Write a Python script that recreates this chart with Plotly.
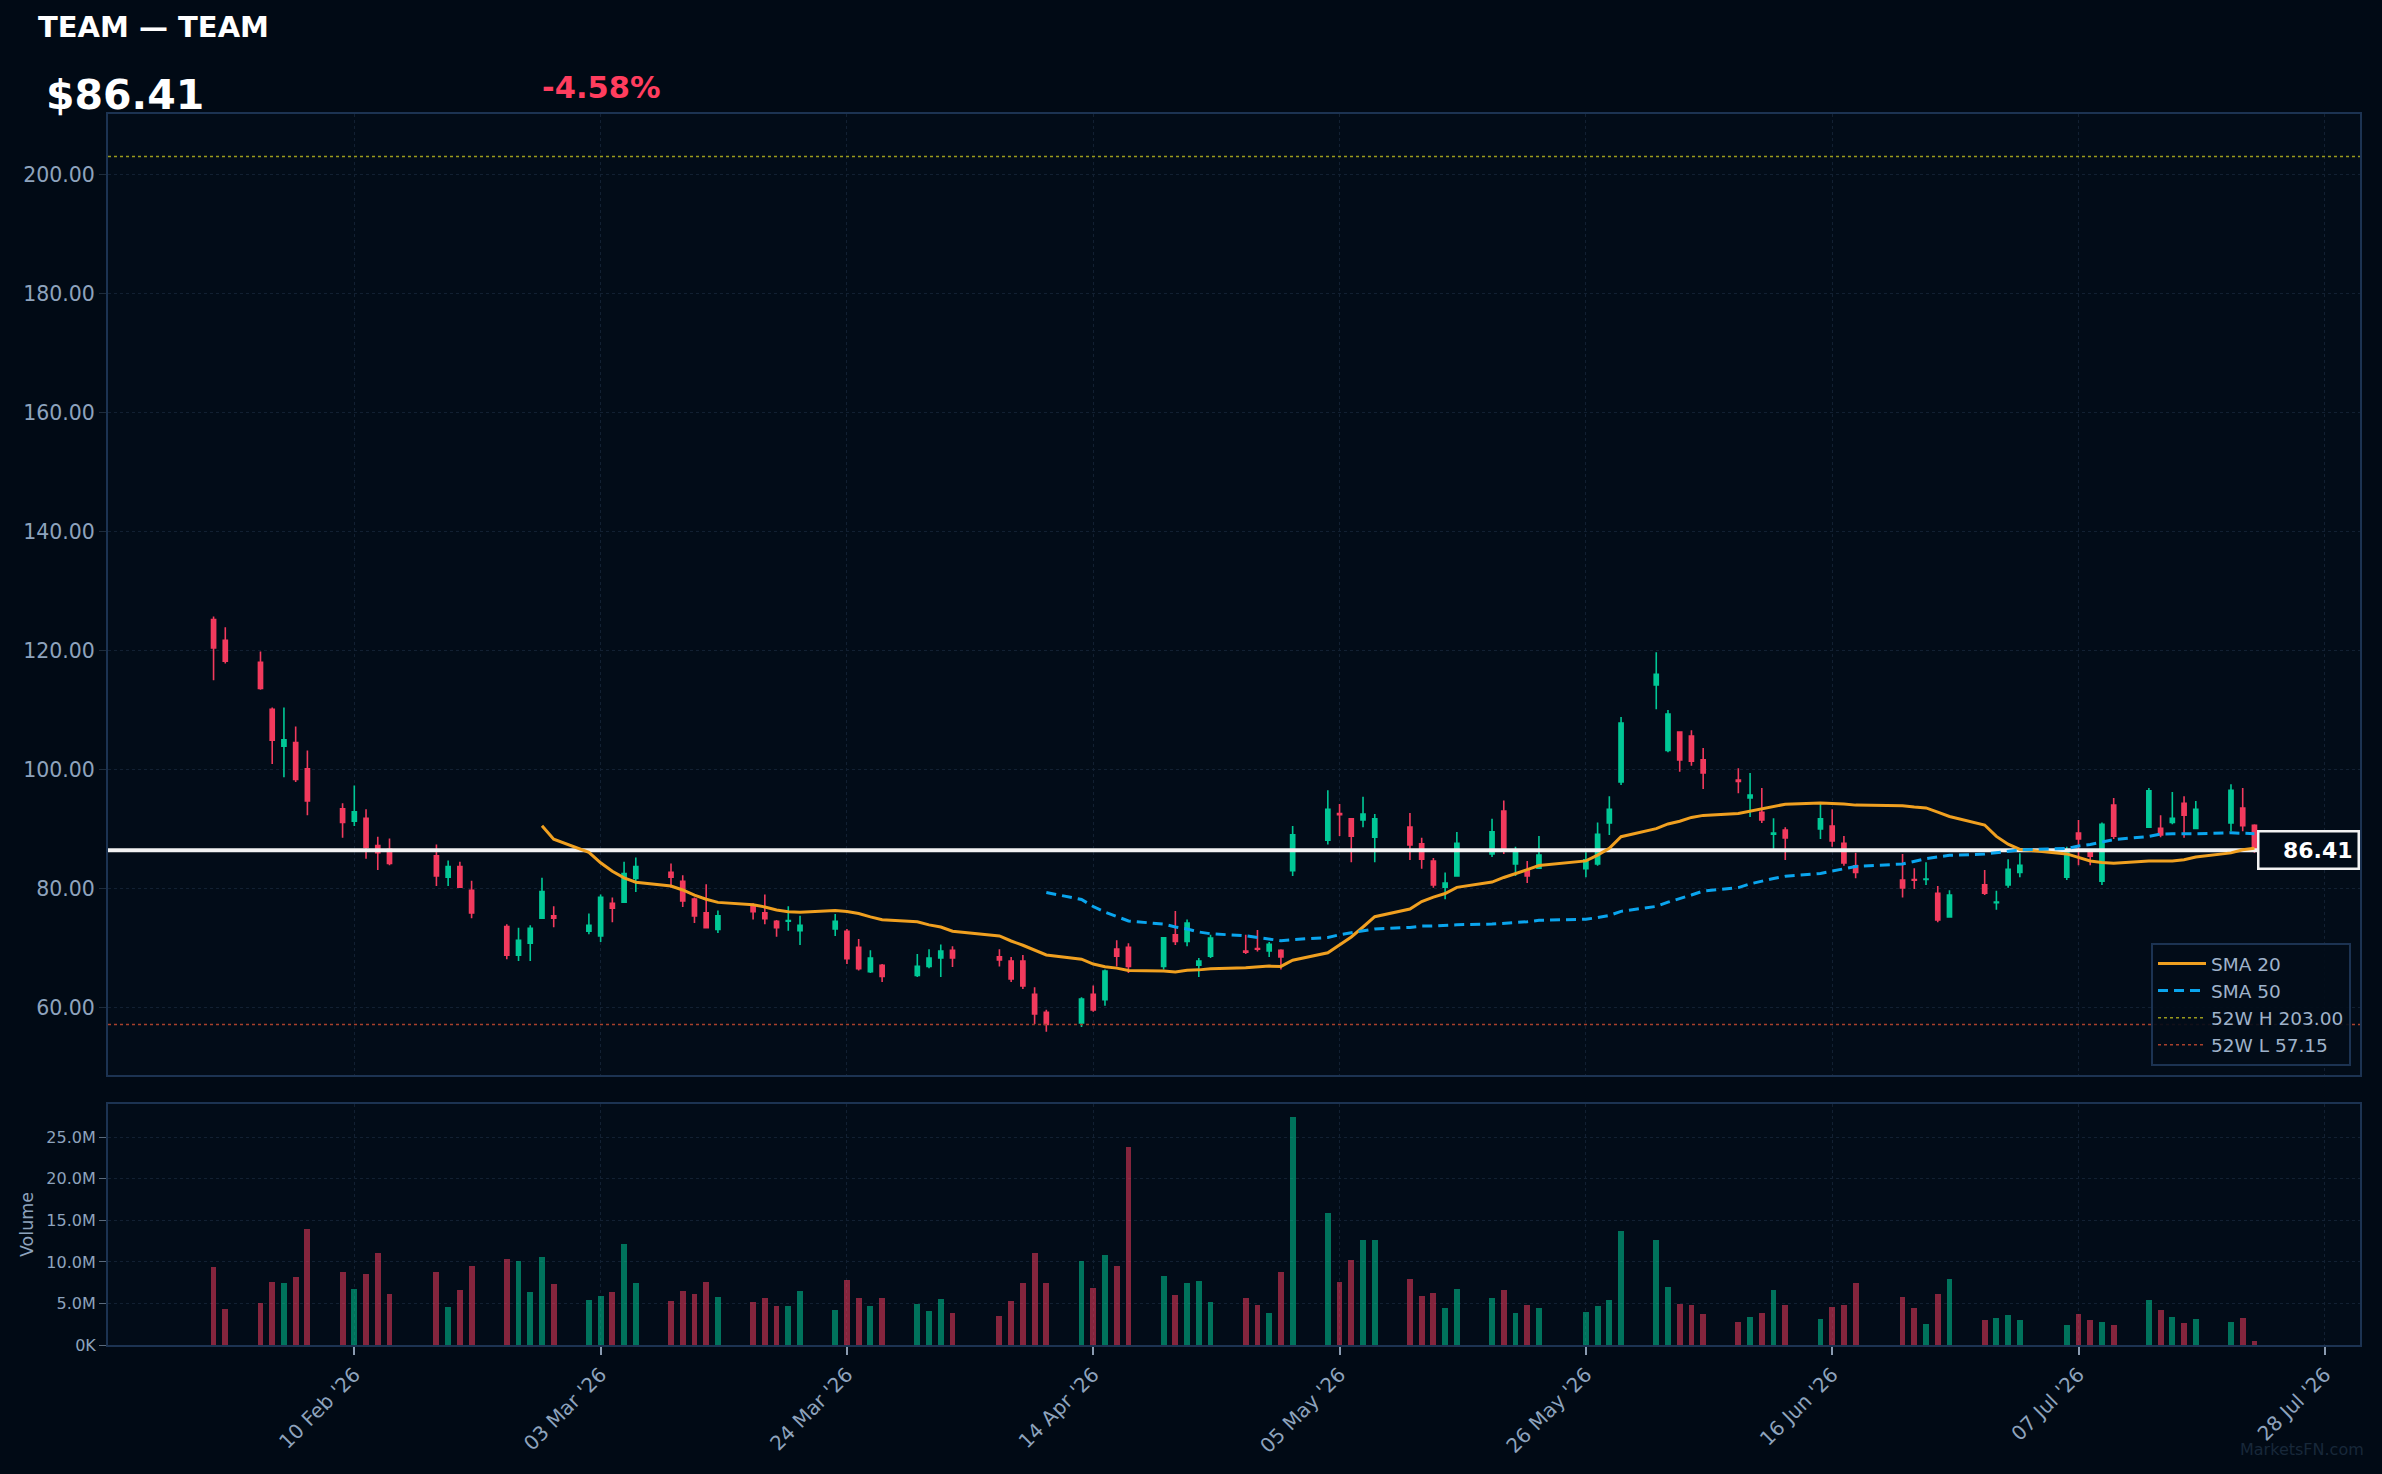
import pandas as pd
import plotly.graph_objects as go

# ---------------- data ----------------
TICKER = "TEAM"
NAME = "TEAM"

dates = [
    "2026-01-29", "2026-01-30",
    "2026-02-02", "2026-02-03", "2026-02-04", "2026-02-05", "2026-02-06",
    "2026-02-09", "2026-02-10", "2026-02-11", "2026-02-12", "2026-02-13",
    "2026-02-17", "2026-02-18", "2026-02-19", "2026-02-20",
    "2026-02-23", "2026-02-24", "2026-02-25", "2026-02-26", "2026-02-27",
    "2026-03-02", "2026-03-03", "2026-03-04", "2026-03-05", "2026-03-06",
    "2026-03-09", "2026-03-10", "2026-03-11", "2026-03-12", "2026-03-13",
    "2026-03-16", "2026-03-17", "2026-03-18", "2026-03-19", "2026-03-20",
    "2026-03-23", "2026-03-24", "2026-03-25", "2026-03-26", "2026-03-27",
    "2026-03-30", "2026-03-31", "2026-04-01", "2026-04-02",
    "2026-04-06", "2026-04-07", "2026-04-08", "2026-04-09", "2026-04-10",
    "2026-04-13", "2026-04-14", "2026-04-15", "2026-04-16", "2026-04-17",
    "2026-04-20", "2026-04-21", "2026-04-22", "2026-04-23", "2026-04-24",
    "2026-04-27", "2026-04-28", "2026-04-29", "2026-04-30", "2026-05-01",
    "2026-05-04", "2026-05-05", "2026-05-06", "2026-05-07", "2026-05-08",
    "2026-05-11", "2026-05-12", "2026-05-13", "2026-05-14", "2026-05-15",
    "2026-05-18", "2026-05-19", "2026-05-20", "2026-05-21", "2026-05-22",
    "2026-05-26", "2026-05-27", "2026-05-28", "2026-05-29",
    "2026-06-01", "2026-06-02", "2026-06-03", "2026-06-04", "2026-06-05",
    "2026-06-08", "2026-06-09", "2026-06-10", "2026-06-11", "2026-06-12",
    "2026-06-15", "2026-06-16", "2026-06-17", "2026-06-18",
    "2026-06-22", "2026-06-23", "2026-06-24", "2026-06-25", "2026-06-26",
    "2026-06-29", "2026-06-30", "2026-07-01", "2026-07-02",
    "2026-07-06", "2026-07-07", "2026-07-08", "2026-07-09", "2026-07-10",
    "2026-07-13", "2026-07-14", "2026-07-15", "2026-07-16", "2026-07-17",
    "2026-07-20", "2026-07-21", "2026-07-22",
]

opens = [
    125.2, 121.7,
    118.0, 110.1, 103.9, 104.5, 100.1,
    93.4, 91.3, 91.8, 87.2, 86.6,
    85.5, 81.9, 83.7, 79.7,
    73.6, 68.8, 70.8, 75.0, 75.4,
    72.8, 72.0, 77.5, 77.7, 81.7,
    82.7, 81.2, 78.2, 75.9, 73.1,
    76.9, 75.9, 74.5, 74.5, 72.9,
    73.2, 72.8, 70.1, 66.0, 67.1,
    65.4, 66.9, 68.3, 69.6,
    68.5, 67.8, 67.8, 62.2, 59.2,
    57.4, 62.2, 61.3, 69.8, 70.1,
    66.9, 72.2, 71.1, 67.1, 68.6,
    69.5, 69.9, 69.5, 69.6, 83.0,
    88.1, 92.6, 91.7, 91.5, 88.6,
    90.3, 87.5, 84.6, 80.2, 82.1,
    85.8, 93.0, 84.1, 83.1, 83.4,
    83.3, 84.1, 91.0, 97.9,
    114.2, 103.2, 106.3, 105.6, 101.6,
    98.2, 95.2, 92.8, 89.1, 89.8,
    90.0, 90.5, 87.6, 83.8,
    81.4, 81.5, 81.5, 79.2, 75.2,
    80.6, 77.6, 80.6, 82.7,
    81.9, 89.3, 86.1, 81.2, 94.0,
    90.3, 90.1, 91.1, 94.3, 90.1,
    91.0, 93.5, 90.6,
]

highs = [
    125.7, 123.9,
    119.8, 110.4, 110.4, 107.2, 103.2,
    94.3, 97.3, 93.3, 88.7, 88.4,
    87.4, 84.7, 84.5, 81.3,
    74.0, 73.4, 73.8, 81.8, 77.0,
    75.8, 79.0, 78.5, 84.5, 85.2,
    84.2, 82.2, 78.5, 80.7, 76.3,
    77.5, 79.0, 74.7, 77.0, 75.4,
    75.7, 73.2, 71.5, 69.6, 67.3,
    69.0, 69.8, 70.6, 70.3,
    69.8, 68.5, 68.8, 63.4, 59.6,
    61.7, 63.7, 66.4, 71.3, 70.8,
    71.8, 76.2, 74.8, 68.3, 72.2,
    72.2, 73.0, 71.0, 69.8, 90.5,
    96.5, 94.2, 91.8, 95.4, 92.5,
    92.7, 88.5, 85.1, 82.7, 89.5,
    91.7, 94.8, 87.0, 84.6, 88.8,
    86.1, 91.1, 95.5, 108.8,
    119.7, 110.0, 106.4, 106.6, 103.6,
    100.2, 99.4, 96.9, 91.8, 90.3,
    94.2, 93.3, 88.8, 86.0,
    85.8, 83.4, 84.4, 80.4, 79.7,
    83.1, 79.6, 84.9, 85.9,
    87.0, 91.5, 86.6, 91.1, 95.2,
    96.9, 92.3, 96.2, 95.5, 94.7,
    97.5, 96.9, 90.8,
]

lows = [
    115.0, 117.8,
    113.4, 100.9, 98.7, 97.9, 92.3,
    88.5, 90.5, 85.0, 83.1, 83.9,
    80.4, 80.4, 80.2, 75.0,
    68.1, 67.8, 67.8, 75.0, 73.5,
    72.3, 71.0, 74.3, 77.7, 79.4,
    80.1, 76.9, 74.2, 73.4, 72.5,
    74.8, 74.0, 71.9, 72.9, 70.5,
    72.0, 67.3, 66.2, 65.8, 64.3,
    65.1, 66.6, 65.1, 66.8,
    66.9, 64.3, 63.1, 57.2, 55.9,
    56.7, 59.3, 60.3, 66.9, 65.8,
    66.4, 70.5, 70.3, 65.1, 68.3,
    69.0, 69.4, 68.5, 66.4, 82.1,
    87.4, 88.8, 84.4, 90.3, 84.4,
    84.8, 83.3, 80.1, 78.2, 82.1,
    85.3, 85.8, 82.1, 80.9, 83.4,
    81.9, 83.8, 89.0, 97.4,
    110.1, 102.9, 99.6, 100.6, 96.7,
    96.0, 92.0, 91.0, 86.6, 84.8,
    88.3, 87.0, 83.8, 81.7,
    78.5, 79.9, 80.6, 74.3, 75.2,
    78.9, 76.4, 80.1, 81.9,
    81.4, 83.9, 83.9, 80.6, 88.3,
    90.3, 88.6, 90.8, 88.5, 90.0,
    89.6, 89.6, 86.0,
]

closes = [
    120.4, 118.2,
    113.6, 104.9, 105.0, 98.3, 94.7,
    91.1, 92.9, 86.9, 86.0, 84.2,
    82.1, 83.7, 80.2, 75.9,
    68.8, 71.3, 73.3, 79.5, 75.0,
    73.8, 78.5, 76.7, 82.5, 83.7,
    81.9, 77.9, 75.4, 73.4, 75.4,
    76.1, 74.9, 73.4, 74.6, 73.8,
    74.5, 68.2, 66.5, 68.3, 65.2,
    66.9, 68.3, 69.5, 68.3,
    68.0, 64.8, 63.6, 58.9, 57.15,
    61.4, 59.6, 66.1, 68.6, 66.9,
    71.7, 71.1, 74.2, 67.8, 71.65,
    69.3, 69.8, 70.6, 68.5, 89.0,
    93.3, 92.4, 88.8, 92.5, 91.7,
    87.3, 84.9, 80.6, 80.9, 87.6,
    89.5, 86.6, 86.1, 82.1, 85.6,
    84.8, 89.1, 93.3, 107.8,
    116.0, 109.3, 101.6, 101.4, 99.4,
    98.0, 95.7, 91.5, 89.3, 88.5,
    91.7, 88.0, 84.3, 82.7,
    80.1, 81.4, 81.6, 74.7, 78.9,
    79.2, 77.7, 83.2, 83.9,
    86.3, 88.3, 85.4, 90.8, 88.8,
    96.4, 89.0, 91.8, 92.3, 93.3,
    96.5, 90.56, 86.41,
]

volumes_m = [
    9.37, 4.37,
    5.08, 7.58, 7.46, 8.17, 13.9,
    8.77, 6.75, 8.53, 11.03, 6.15,
    8.77, 4.6, 6.63, 9.48,
    10.3, 10.08, 6.39, 10.56, 7.34,
    5.44, 5.91, 6.39, 12.1, 7.46,
    5.32, 6.51, 6.15, 7.58, 5.79,
    5.2, 5.67, 4.72, 4.72, 6.51,
    4.25, 7.82, 5.67, 4.72, 5.67,
    4.96, 4.13, 5.56, 3.89,
    3.53, 5.32, 7.46, 11.03, 7.46,
    10.08, 6.87, 10.79, 9.48, 23.77,
    8.29, 6.03, 7.46, 7.7, 5.2,
    5.67, 4.84, 3.89, 8.77, 27.4,
    15.9, 7.58, 10.2, 12.58, 12.58,
    7.94, 5.91, 6.27, 4.48, 6.75,
    5.67, 6.63, 3.89, 4.84, 4.48,
    4.0, 4.72, 5.44, 13.77,
    12.58, 6.98, 4.96, 4.84, 3.77,
    2.82, 3.41, 3.89, 6.63, 4.84,
    3.17, 4.6, 4.84, 7.46,
    5.79, 4.48, 2.58, 6.15, 7.94,
    3.06, 3.29, 3.65, 3.06,
    2.46, 3.77, 3.06, 2.82, 2.46,
    5.44, 4.25, 3.41, 2.7, 3.17,
    2.82, 3.29, 0.44,
]

HIGH_52W = 203.00
LOW_52W = 57.15

date_ticks = ["2026-02-10", "2026-03-03", "2026-03-24", "2026-04-14", "2026-05-05",
              "2026-05-26", "2026-06-16", "2026-07-07", "2026-07-28"]
price_ticks = [60, 80, 100, 120, 140, 160, 180, 200]
vol_tick_vals = [0, 5e6, 10e6, 15e6, 20e6, 25e6]
vol_tick_text = ["0K", "5.0M", "10.0M", "15.0M", "20.0M", "25.0M"]

# ---------------- derived ----------------
dt = pd.to_datetime(dates)
volumes = [v * 1e6 for v in volumes_m]
close_s = pd.Series(closes)
sma20 = close_s.rolling(20).mean()
sma50 = close_s.rolling(50).mean()
last = closes[-1]
prev = closes[-2]
chg_pct = (last / prev - 1) * 100

pad = pd.Timedelta(days=9)
x_start = dt[0] - pad
x_end = dt[-1] + pad

UP = "#00c896"
DOWN = "#f23a5d"
UP_V = "rgba(0,200,150,0.55)"
DOWN_V = "rgba(242,58,93,0.55)"
vol_colors = [UP_V if c >= o else DOWN_V for o, c in zip(opens, closes)]

BG = "#010a15"
PLOT_BG = "#020c18"
AX = "#1c3352"
GRID = "#122032"
TXT = "#8ea3bd"
FONT = "DejaVu Sans"

W, H = 2382, 1474
L, R = 108, 2360
MT, MB = 114, 1075
VT, VB = 1104, 1345

fig = go.Figure()

fig.add_trace(go.Candlestick(
    x=dt, open=opens, high=highs, low=lows, close=closes,
    increasing=dict(line=dict(color=UP, width=1.6), fillcolor=UP),
    decreasing=dict(line=dict(color=DOWN, width=1.6), fillcolor=DOWN),
    showlegend=False, xaxis="x", yaxis="y", name=TICKER,
))

fig.add_trace(go.Scatter(
    x=[x_start, x_end], y=[last, last], mode="lines",
    line=dict(color="#f2f2f2", width=4), showlegend=False,
    hoverinfo="skip", xaxis="x", yaxis="y",
))

fig.add_trace(go.Scatter(
    x=dt, y=sma20, mode="lines", name="SMA 20",
    line=dict(color="#f0a020", width=3), xaxis="x", yaxis="y",
))
fig.add_trace(go.Scatter(
    x=dt, y=sma50, mode="lines", name="SMA 50",
    line=dict(color="#0aa5ee", width=3, dash="10px,6px"), xaxis="x", yaxis="y",
))

fig.add_trace(go.Bar(
    x=dt, y=volumes, marker=dict(color=vol_colors, line=dict(width=0)),
    width=0.5 * 86400000, showlegend=False, xaxis="x2", yaxis="y2", name="Volume",
))

fig.add_shape(type="line", xref="x domain", x0=0, x1=1, yref="y",
              y0=HIGH_52W, y1=HIGH_52W,
              line=dict(color="#9a9a1c", width=1.5, dash="dot"),
              showlegend=True, name=f"52W H {HIGH_52W:.2f}")
fig.add_shape(type="line", xref="x domain", x0=0, x1=1, yref="y",
              y0=LOW_52W, y1=LOW_52W,
              line=dict(color="#a8402c", width=1.5, dash="dot"),
              showlegend=True, name=f"52W L {LOW_52W:.2f}")

xdom = [L / W, R / W]
common_x = dict(
    type="date", range=[x_start, x_end], domain=xdom,
    tickmode="array", tickvals=date_ticks,
    showgrid=True, gridcolor=GRID, griddash="dot", gridwidth=1,
    showline=True, linecolor=AX, linewidth=2, mirror=True,
    zeroline=False, automargin=False,
)

fig.update_layout(
    width=W, height=H,
    margin=dict(l=0, r=0, t=0, b=0),
    paper_bgcolor=BG, plot_bgcolor=PLOT_BG,
    font=dict(family=FONT, color=TXT),
    boxgap=0.5,
    showlegend=True,
    xaxis=dict(common_x, anchor="y", showticklabels=False, ticks="",
               rangeslider=dict(visible=False), matches="x2"),
    xaxis2=dict(common_x, anchor="y2", ticks="outside", ticklen=8,
                tickcolor="#8a9bb0", tickwidth=1.5,
                tickformat="%d %b '%y", tickangle=-45,
                tickfont=dict(size=20, color=TXT)),
    yaxis=dict(domain=[1 - MB / H, 1 - MT / H], range=[48.65, 210.15],
               tickvals=price_ticks, tickformat=".2f",
               tickfont=dict(size=20.5, color=TXT),
               ticks="outside", ticklen=7, tickcolor="#1e2c3c",
               showgrid=True, gridcolor=GRID, griddash="dot",
               showline=True, linecolor=AX, linewidth=2, mirror=True,
               zeroline=False, automargin=False),
    yaxis2=dict(domain=[1 - VB / H, 1 - VT / H], range=[0, 29.0e6],
                tickvals=vol_tick_vals, ticktext=vol_tick_text,
                tickfont=dict(size=16, color=TXT),
                ticks="outside", ticklen=7, tickcolor="#5a6a7c",
                title=dict(text="Volume", font=dict(size=17.5, color=TXT), standoff=8),
                showgrid=True, gridcolor=GRID, griddash="dot",
                showline=True, linecolor=AX, linewidth=2, mirror=True,
                zeroline=False, automargin=False),
    legend=dict(x=2351 / W, y=1 - 1066 / H, xanchor="right", yanchor="bottom",
                bgcolor="rgba(2,12,24,0.9)", bordercolor=AX, borderwidth=2,
                font=dict(size=18.5, color="#9fb2ca"), itemwidth=48),
    bargap=0,
)

fig.add_annotation(xref="paper", yref="paper", x=36 / W, y=1 - 27 / H,
                   xanchor="left", yanchor="middle", showarrow=False,
                   text=f"{TICKER} — {NAME}",
                   font=dict(size=29, color="#ffffff", family=FONT, weight="bold"))
fig.add_annotation(xref="paper", yref="paper", x=44 / W, y=1 - 95 / H,
                   xanchor="left", yanchor="middle", showarrow=False,
                   text=f"${last:.2f}",
                   font=dict(size=41, color="#ffffff", family=FONT, weight="bold"))
fig.add_annotation(xref="paper", yref="paper", x=540 / W, y=1 - 88 / H,
                   xanchor="left", yanchor="middle", showarrow=False,
                   text=f"{chg_pct:+.2f}%" if chg_pct >= 0 else f"{chg_pct:.2f}%",
                   font=dict(size=30.5, color="#ff3d5e", family=FONT, weight="bold"))
fig.add_annotation(xref="paper", yref="y", x=R / W, y=last,
                   xanchor="right", yanchor="middle", showarrow=False,
                   text=f"{last:.2f}", align="right", width=88,
                   bgcolor="#020c18", bordercolor="#f2f2f2", borderwidth=2.5,
                   borderpad=5,
                   font=dict(size=22, color="#ffffff", family=FONT, weight="bold"))
fig.add_annotation(xref="paper", yref="paper", x=2366 / W, y=1 - 1449 / H,
                   xanchor="right", yanchor="middle", showarrow=False,
                   text="MarketsFN.com",
                   font=dict(size=16, color="#18283a", family=FONT))

fig.write_html("out.html")
